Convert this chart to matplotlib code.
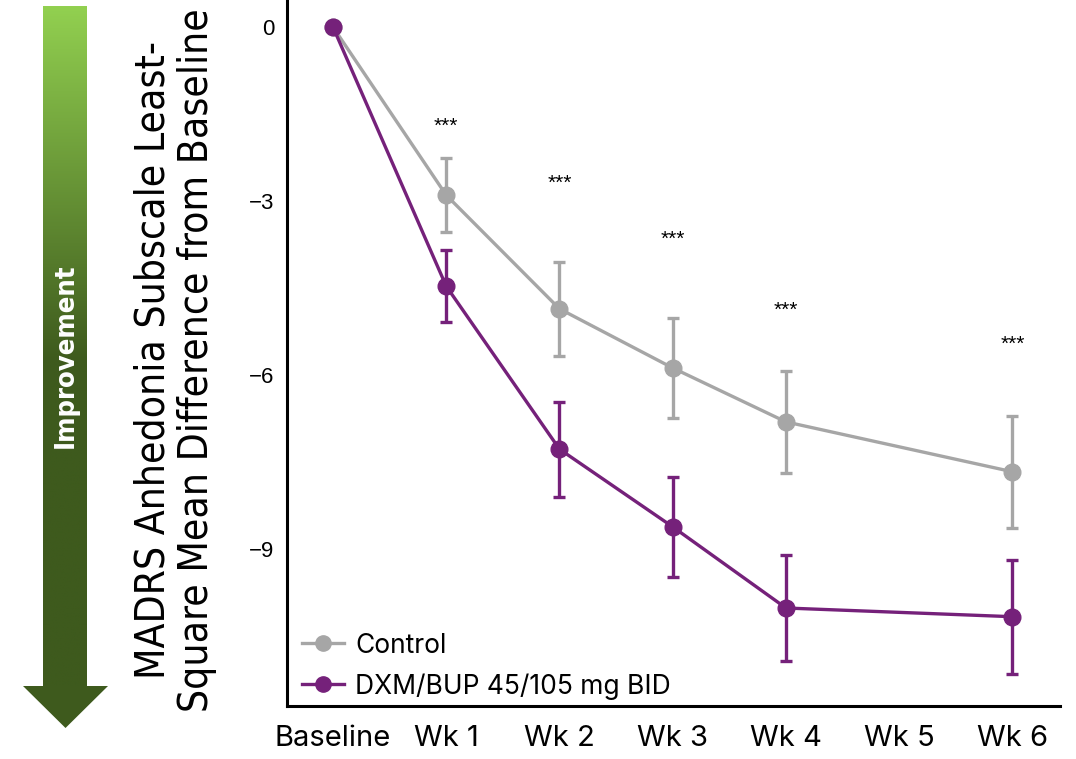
import numpy as np
import matplotlib
matplotlib.use("Agg")
import matplotlib.pyplot as plt
from matplotlib import font_manager
from matplotlib.patches import Polygon
from matplotlib.lines import Line2D
from matplotlib.colors import LinearSegmentedColormap

# data
tick_labels = ["Baseline", "Wk 1", "Wk 2", "Wk 3", "Wk 4", "Wk 5", "Wk 6"]
visits = [0, 1, 2, 3, 4, 6]
control = [0, -2.90, -4.86, -5.88, -6.81, -7.67]
control_err = [0, 0.64, 0.81, 0.86, 0.88, 0.97]
dxm = [0, -4.47, -7.28, -8.62, -10.02, -10.17]
dxm_err = [0, 0.62, 0.82, 0.86, 0.92, 0.98]
star_y = [-1.72, -2.69, -3.67, -4.88, -5.48]
star_x = [1, 2, 3, 4, 6]

gris = "#A6A6A6"
morado = "#75217A"
plt.rcParams["font.family"] = ["Inter", "DejaVu Sans"]

# buscar una fuente estrecha (regular y bold) instalada
narrow_reg, narrow_bold = None, None
for f in font_manager.fontManager.ttflist:
    estrecha = f.stretch in ("condensed", "semi-condensed", "extra-condensed") or "Narrow" in f.name
    if not estrecha or f.style != "normal":
        continue
    if f.weight in (400, "normal", "regular", "book") and narrow_reg is None:
        narrow_reg = f.fname
    if f.weight in (700, "bold") and narrow_bold is None:
        narrow_bold = f.fname

def props(fname, bold=False):
    if fname:
        return dict(fontproperties=font_manager.FontProperties(fname=fname))
    return dict(family=["Liberation Sans", "DejaVu Sans"], fontweight="bold" if bold else "normal")

W, H = 1076, 759
fig = plt.figure(figsize=(W / 100, H / 100), dpi=100)
ax = fig.add_axes([287 / W, 1 - 706 / H, (1060 - 287) / W, 706 / H])

ax.errorbar(visits, control, yerr=control_err, color=gris, lw=2.4, marker="o",
            ms=12, elinewidth=2.4, capsize=4.5, capthick=2.4, zorder=3)
ax.errorbar(visits, dxm, yerr=dxm_err, color=morado, lw=2.4, marker="o",
            ms=12, elinewidth=2.4, capsize=4.5, capthick=2.4, zorder=4)

for x, y in zip(star_x, star_y):
    ax.text(x, y, "***", ha="center", va="center", fontsize=15, color="black",
            family=["Liberation Sans", "DejaVu Sans"])

ax.set_xlim(-0.406, 6.42)
ax.set_ylim(-11.71, 0.466)
ax.set_xticks(range(len(tick_labels)))
ax.set_xticklabels(tick_labels, fontsize=21)
ax.set_yticks([0, -3, -6, -9])
ax.set_yticklabels(["0", "\u22123", "\u22126", "\u22129"], fontsize=16,
                   family=["Liberation Sans", "DejaVu Sans"])
ax.tick_params(axis="both", length=0)
ax.tick_params(axis="x", pad=14)
ax.tick_params(axis="y", pad=9)
for s in ["top", "right"]:
    ax.spines[s].set_visible(False)
for s in ["left", "bottom"]:
    ax.spines[s].set_linewidth(2.2)
    ax.spines[s].set_color("black")

handles = [Line2D([], [], color=gris, lw=2.4, marker="o", ms=11),
           Line2D([], [], color=morado, lw=2.4, marker="o", ms=11)]
ax.legend(handles, ["Control", "DXM/BUP 45/105 mg BID"], loc="lower left",
          bbox_to_anchor=(0.006, -0.006), frameon=False, fontsize=19, handlelength=1.6,
          handletextpad=0.4, labelspacing=0.55, borderaxespad=0.0)

# flecha de mejora a la izquierda
fa = fig.add_axes([0, 0, 1, 1], zorder=-1)
cmap = LinearSegmentedColormap.from_list("verde", [(0, "#92D050"), (0.52, "#3E5A1D"), (1, "#3E5A1D")])
grad = np.linspace(0, 1, 256).reshape(-1, 1)
fa.imshow(grad, cmap=cmap, extent=[43, 87, 687, 6], aspect="auto")
fa.add_patch(Polygon([(23, 686), (108, 686), (65.5, 728)], closed=True, color="#3E5A1D", lw=0))
fa.set_xlim(0, W)
fa.set_ylim(H, 0)
fa.axis("off")
imp = fa.text(66, 356, "Improvement", rotation=90, ha="center", va="center", color="white",
              fontsize=16, **props(narrow_bold, bold=True))

ylab = fig.text(175 / W, 1 - 360 / H,
                "MADRS Anhedonia Subscale Least-\nSquare Mean Difference from Baseline",
                rotation=90, ha="center", va="center", fontsize=28, linespacing=1.12,
                **props(narrow_reg))

# ajustar tamaños para que el largo coincida con la referencia
r = fig.canvas.get_renderer()
for t, largo in [(imp, 186), (ylab, 703)]:
    h = t.get_window_extent(r).height
    t.set_fontsize(t.get_fontsize() * largo / h)

fig.savefig("out.png", dpi=100)
